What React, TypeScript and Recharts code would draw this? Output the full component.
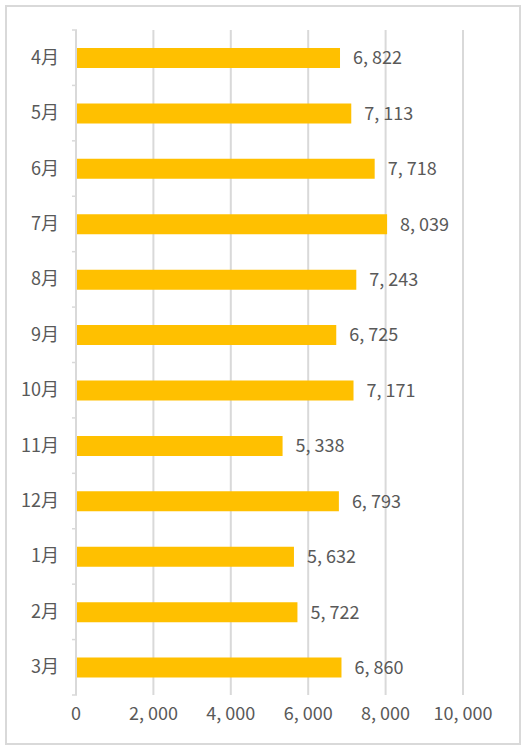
import { BarChart, Bar, XAxis, YAxis, CartesianGrid, LabelList } from "recharts";

const months = ["4月", "5月", "6月", "7月", "8月", "9月", "10月", "11月", "12月", "1月", "2月", "3月"];
const sales = [6822, 7113, 7718, 8039, 7243, 6725, 7171, 5338, 6793, 5632, 5722, 6860];
const xTicks = [0, 2000, 4000, 6000, 8000, 10000];

const rows = months.map((m, i) => ({ month: m, value: sales[i] }));

const FONT = '"Noto Sans CJK JP", "Noto Sans", sans-serif';
const TEXT = "#595959";
const GRID = "#d9d9d9";

const CHART_W = 524;
const CHART_H = 748;
const TOP = 30;
const BOTTOM = 53;

const fmt = (n: number) => n.toLocaleString("en-US").replace(",", ", ");

function MonthTick({ x, y, payload, index }: any) {
  const band = (CHART_H - TOP - BOTTOM) / months.length;
  return (
    <g>
      <line x1={x + 4} x2={x + 9} y1={y - band / 2} y2={y - band / 2} stroke={GRID} strokeWidth={1.5} />
      {index === months.length - 1 && (
        <line x1={x + 4} x2={x + 9} y1={y + band / 2} y2={y + band / 2} stroke={GRID} strokeWidth={1.5} />
      )}
      <text x={x - 9} y={y} dy={6} textAnchor="end" fontSize={18} fill={TEXT} fontFamily={FONT}>
        {payload.value}
      </text>
    </g>
  );
}

export default function App() {
  return (
    <div
      style={{
        position: "absolute",
        left: 0,
        top: 0,
        width: CHART_W,
        height: CHART_H,
        background: "#fff",
      }}
    >
      <div
        style={{
          position: "absolute",
          left: 5,
          top: 5,
          width: 512,
          height: 736,
          border: `2px solid ${GRID}`,
        }}
      />
      <BarChart
        width={CHART_W}
        height={CHART_H}
        data={rows}
        layout="vertical"
        margin={{ top: TOP, right: 61, left: 0, bottom: 23 }}
      >
        <CartesianGrid horizontal={false} stroke={GRID} strokeWidth={2} />
        <XAxis
          type="number"
          domain={[0, 10000]}
          ticks={xTicks}
          tickFormatter={fmt}
          axisLine={false}
          tickLine={false}
          height={30}
          tick={{ fontSize: 18, fill: TEXT, fontFamily: FONT }}
          tickMargin={6}
        />
        <YAxis
          type="category"
          dataKey="month"
          width={76}
          axisLine={{ stroke: GRID, strokeWidth: 2 }}
          tickLine={false}
          tick={<MonthTick />}
          interval={0}
        />
        <Bar dataKey="value" fill="#ffc000" barSize={20} isAnimationActive={false}>
          <LabelList
            dataKey="value"
            position="right"
            offset={13}
            formatter={(v: any) => fmt(Number(v))}
            style={{ fontSize: 18, fill: TEXT, fontFamily: FONT }}
          />
        </Bar>
      </BarChart>
    </div>
  );
}
